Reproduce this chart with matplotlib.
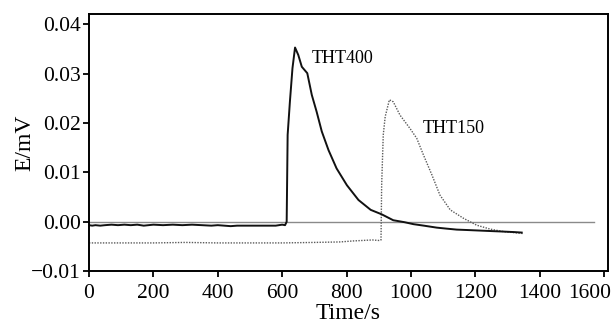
import matplotlib
matplotlib.use("Agg")
import matplotlib.pyplot as plt
from matplotlib.transforms import ScaledTranslation

plt.rcParams['font.family'] = ['Liberation Serif', 'DejaVu Serif']

# THT400 (solid)
t400 = [0, 10, 20, 35, 50, 70, 90, 110, 130, 150, 170, 200, 230, 260, 290, 320, 350, 380, 400,
        420, 440, 460, 500, 540, 580, 600, 609, 614, 617, 624, 632, 640, 650, 661, 678, 692,
        707, 723, 744, 769, 801, 837, 875, 909, 945, 980, 1008, 1040, 1080, 1110, 1142, 1180,
        1215, 1250, 1287, 1320, 1344]
e400 = [-0.0007, -0.0008, -0.0007, -0.0008, -0.0007, -0.0006, -0.0007, -0.0006, -0.0007,
        -0.0006, -0.0008, -0.0006, -0.0007, -0.0006, -0.0007, -0.0006, -0.0007, -0.0008,
        -0.0007, -0.0008, -0.0009, -0.0008, -0.0008, -0.0008, -0.0008, -0.0006, -0.0007,
        0.0000, 0.0176, 0.0243, 0.0311, 0.0353, 0.0338, 0.0314, 0.0301, 0.0257,
        0.0223, 0.0183, 0.0145, 0.0108, 0.0074, 0.0044, 0.0024, 0.0015, 0.0003, -0.0001,
        -0.0005, -0.0008, -0.0012, -0.0014, -0.0016, -0.0017, -0.0018, -0.0019, -0.0020,
        -0.0021, -0.0022]

# THT150 (dotted)
t150 = [0, 100, 200, 300, 400, 500, 600, 700, 780, 820, 850, 880, 900, 907, 909, 914, 920,
        933, 945, 966, 997, 1018, 1039, 1065, 1090, 1122, 1163, 1204, 1246, 1287, 1349]
e150 = [-0.0043, -0.0043, -0.0043, -0.0042, -0.0043, -0.0043, -0.0043, -0.0042, -0.0041,
        -0.0039, -0.0038, -0.0037, -0.0038, -0.0037, 0.0074, 0.0176, 0.0213,
        0.0247, 0.0243, 0.0216, 0.0189, 0.0169, 0.0135, 0.0095, 0.0054, 0.0024, 0.0007,
        -0.0007, -0.0015, -0.0020, -0.0024]

xticks = [0, 200, 400, 600, 800, 1000, 1200, 1400, 1600]
yticks = [-0.01, 0.00, 0.01, 0.02, 0.03, 0.04]
ytick_labels = ['\u22120.01', '0.00', '0.01', '0.02', '0.03', '0.04']

fig = plt.figure(figsize=(6.15, 3.25), dpi=100)
ax = fig.add_axes([0.1447, 0.166, 0.9886 - 0.1447, 0.957 - 0.166])

ax.plot([0, 1568], [0, 0], color='#8a8a8a', lw=1.0)
ax.plot(t150, e150, color='#5a5a5a', lw=1.0, ls=(0, (1, 1)))
ax.plot(t400, e400, color='#111111', lw=1.4)

ax.text(692, 0.0322, 'THT400', fontsize=13)
ax.text(1037, 0.0180, 'THT150', fontsize=13)

ax.set_xlim(0, 1612)
ax.set_ylim(-0.01, 0.0421)
ax.set_xticks(xticks)
ax.set_xticklabels([str(v) for v in xticks])
ax.set_yticks(yticks)
ax.set_yticklabels(ytick_labels)
ax.tick_params(axis='x', direction='out', length=4, width=1.3, labelsize=15.5, pad=5)
ax.tick_params(axis='y', direction='out', length=4, width=1.3, labelsize=15.5, pad=2)
ax.tick_params(top=False, right=False)
last = ax.get_xticklabels()[-1]
last.set_horizontalalignment('right')
last.set_transform(last.get_transform() + ScaledTranslation(7 / 100, 0, fig.dpi_scale_trans))
for s in ax.spines.values():
    s.set_linewidth(1.4)
ax.set_xlabel('Time/s', fontsize=17, labelpad=0)
ax.set_ylabel('E/mV', fontsize=17, labelpad=-3)

fig.savefig('out.png', dpi=100)
